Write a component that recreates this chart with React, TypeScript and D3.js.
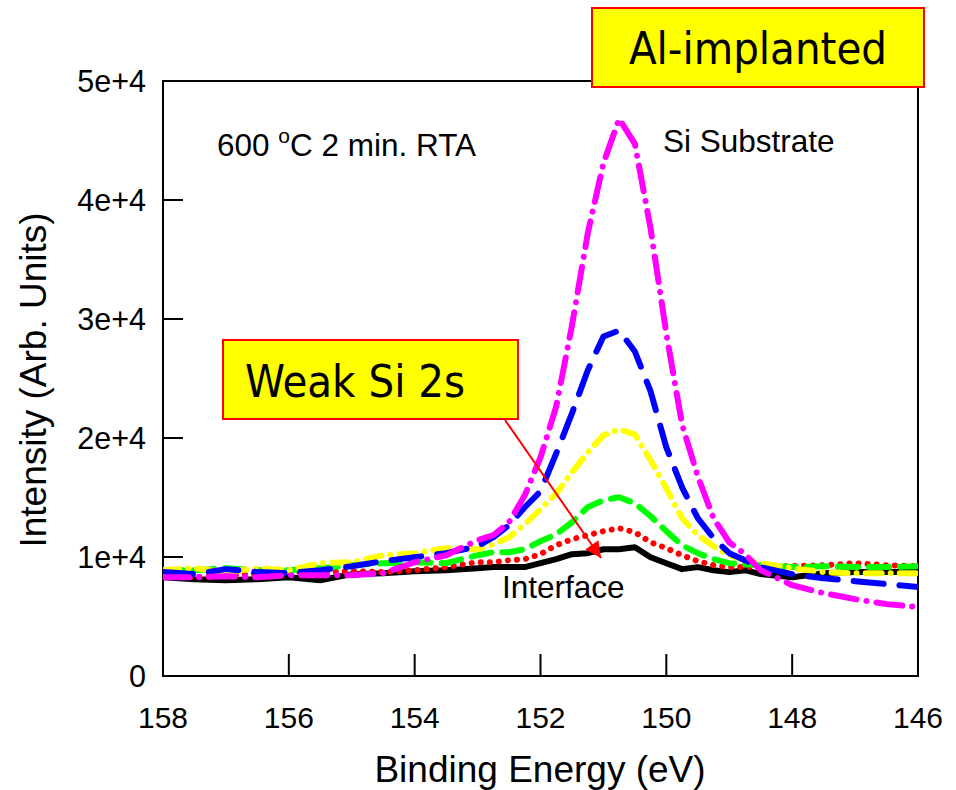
import React from "react";
import * as d3 from "d3";

const energies = [158, 157.5, 157, 156.5, 156, 155.5, 155, 154.5, 154, 153.5, 153, 152.75, 152.5, 152.25, 152, 151.75, 151.5, 151.25, 151, 150.75, 150.5, 150.25, 150, 149.75, 149.5, 149.25, 149, 148.75, 148.5, 148, 147.5, 147, 146.5, 146];

const interfaceBlack = [8300, 8140, 8050, 8140, 8300, 8050, 8560, 8640, 8810, 8890, 9060, 9150, 9150, 9150, 9480, 9820, 10240, 10320, 10650, 10650, 10820, 9980, 9480, 8980, 9150, 8890, 8730, 8890, 8560, 8300, 8640, 8730, 8730, 8730];
const layerRed = [8390, 8300, 8390, 8640, 8730, 8730, 8810, 8730, 8890, 9150, 9560, 9560, 9730, 9820, 10240, 10990, 11490, 11830, 12170, 12420, 12080, 11240, 10740, 10150, 9650, 9310, 9150, 9150, 9150, 9230, 9310, 9480, 9310, 9230];
const layerGreen = [8890, 8890, 9060, 8890, 8890, 9060, 9310, 9480, 9560, 9480, 10150, 10400, 10400, 10650, 11330, 11910, 12920, 14180, 14770, 15020, 14520, 13420, 12170, 10990, 10320, 9820, 9480, 9400, 9310, 9150, 9230, 9150, 9150, 9230];
const layerYellow = [8890, 9060, 8730, 9060, 8890, 9480, 9560, 10150, 10320, 10740, 10650, 11070, 11660, 12750, 14010, 15350, 17120, 18790, 20220, 20720, 20300, 18120, 15770, 13260, 11830, 10900, 10150, 9730, 9480, 9060, 8730, 8640, 8640, 8640];
const layerBlue = [8730, 8560, 8980, 8730, 8640, 8890, 9230, 9650, 9980, 10320, 10900, 11660, 12670, 14180, 15520, 18710, 22070, 25670, 28530, 29030, 27270, 23910, 19210, 15860, 13260, 11580, 10320, 9730, 9150, 8560, 8220, 7970, 7720, 7470];
const substrateMagenta = [8300, 8300, 8390, 8300, 8470, 8470, 8470, 8640, 9560, 10150, 11410, 11830, 12920, 15190, 18370, 22650, 29450, 37170, 43080, 46820, 44720, 37590, 28780, 21140, 16780, 13260, 11240, 10240, 8890, 7630, 6960, 6460, 6040, 5790];

const xTicks = [158, 156, 154, 152, 150, 148, 146];
const yTicks = [0, 10000, 20000, 30000, 40000, 50000];
const yTickLabels = ["0", "1e+4", "2e+4", "3e+4", "4e+4", "5e+4"];

const series = [
  { name: "interface", values: interfaceBlack, color: "#000000", dash: "" },
  { name: "red", values: layerRed, color: "#ff0000", dash: "0.1 9" },
  { name: "green", values: layerGreen, color: "#00ff00", dash: "20 11" },
  { name: "yellow", values: layerYellow, color: "#ffff00", dash: "16 9 0.1 9" },
  { name: "blue", values: layerBlue, color: "#0000ff", dash: "30 16" },
  { name: "magenta", values: substrateMagenta, color: "#ff00ff", dash: "26 10 0.1 10" },
];

const W = 956;
const H = 790;
const left = 163, right = 918, top = 81, bottom = 676;

export default function App() {
  const x = d3.scaleLinear().domain([158, 146]).range([left, right]);
  const y = d3.scaleLinear().domain([0, 50000]).range([bottom, top]);
  const line = d3
    .line<number>()
    .x((_, i) => x(energies[i]))
    .y((d) => y(d))
    .curve(d3.curveLinear);

  const sans = "'Liberation Sans', Arial, sans-serif";
  const boxFont = "'DejaVu Sans Condensed', 'DejaVu Sans', sans-serif";

  return (
    <svg
      width={W}
      height={H}
      style={{ position: "absolute", left: 0, top: 0, background: "#fff" }}
    >
      <defs>
        <clipPath id="plotclip">
          <rect x={left} y={top - 10} width={right - left} height={bottom - top + 10} />
        </clipPath>
        <marker id="arrowhead" viewBox="0 0 10 10" refX="10" refY="5" markerWidth="20" markerHeight="16" markerUnits="userSpaceOnUse" orient="auto">
          <path d="M0,0 L10,5 L0,10 z" fill="#ff0000" />
        </marker>
      </defs>
      <rect x={0} y={0} width={W} height={H} fill="#ffffff" />

      {/* frame */}
      <rect x={left} y={top} width={right - left} height={bottom - top} fill="none" stroke="#000" strokeWidth={2} />

      {/* y ticks */}
      {yTicks.map((t, i) => (
        <g key={"y" + t}>
          {i > 0 && i < yTicks.length - 1 && (
            <line x1={left} x2={left + 20} y1={y(t)} y2={y(t)} stroke="#000" strokeWidth={2} />
          )}
          <text x={146} y={y(t)} dy="0.35em" textAnchor="end" fontFamily={sans} fontSize={30.5} fill="#000">
            {yTickLabels[i]}
          </text>
        </g>
      ))}

      {/* x ticks */}
      {xTicks.map((t, i) => (
        <g key={"x" + t}>
          {i > 0 && i < xTicks.length - 1 && (
            <line x1={x(t)} x2={x(t)} y1={bottom} y2={bottom - 22} stroke="#000" strokeWidth={2} />
          )}
          <text x={x(t)} y={728} textAnchor="middle" fontFamily={sans} fontSize={30} fill="#000">
            {t}
          </text>
        </g>
      ))}

      {/* axis titles */}
      <text x={540} y={782} textAnchor="middle" fontFamily={sans} fontSize={37} fill="#000">
        Binding Energy (eV)
      </text>
      <text transform={`translate(46,380) rotate(-90)`} textAnchor="middle" fontFamily={sans} fontSize={37} fill="#000">
        Intensity (Arb. Units)
      </text>

      {/* curves */}
      <g clipPath="url(#plotclip)">
        {series.map((s) => (
          <path
            key={s.name}
            d={line(s.values) || ""}
            fill="none"
            stroke={s.color}
            strokeWidth={6}
            strokeDasharray={s.dash || undefined}
            strokeLinecap="round"
            strokeLinejoin="round"
          />
        ))}
      </g>

      {/* annotations */}
      <text x={217} y={156} fontFamily={sans} fontSize={31.5} fill="#000">
        600 <tspan dy={-13} fontSize={21}>o</tspan>
        <tspan dy={13}>C 2 min. RTA</tspan>
      </text>
      <text x={663} y={152} fontFamily={sans} fontSize={31.5} fill="#000">
        Si Substrate
      </text>
      <text x={502} y={598} fontFamily={sans} fontSize={31.5} fill="#000">
        Interface
      </text>

      {/* Weak Si 2s callout */}
      <line x1={505} y1={420} x2={601} y2={558} stroke="#ff0000" strokeWidth={2} markerEnd="url(#arrowhead)" />
      <rect x={223} y={340} width={295} height={79} fill="#ffff00" stroke="#ff0000" strokeWidth={2} />
      <text x={245} y={397} fontFamily={boxFont} fontSize={45} fill="#000">
        Weak Si 2s
      </text>

      {/* Al-implanted box */}
      <rect x={592} y={8} width={332} height={79} fill="#ffff00" stroke="#ff0000" strokeWidth={2} />
      <text x={758} y={64} textAnchor="middle" fontFamily={boxFont} fontSize={45} fill="#000">
        Al-implanted
      </text>
    </svg>
  );
}
